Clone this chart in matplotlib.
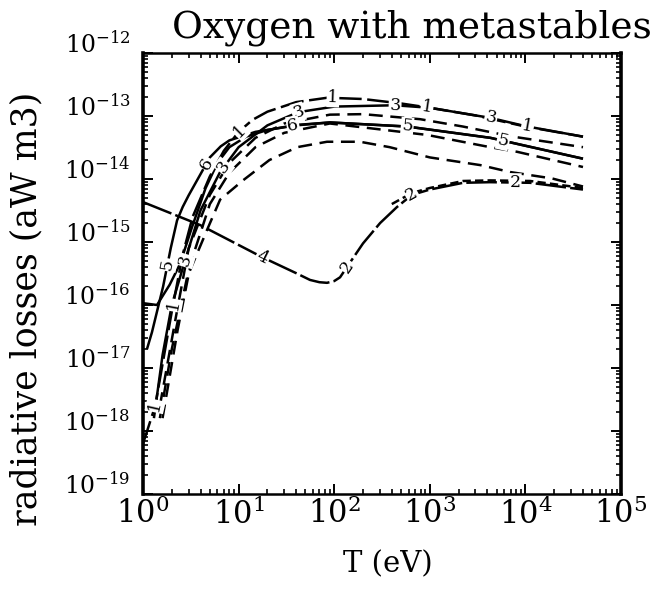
import numpy as np
import matplotlib
matplotlib.use("Agg")
import matplotlib.pyplot as plt

plt.rcParams["mathtext.fontset"] = "dejavuserif"
plt.rcParams["font.family"] = ["DejaVu Serif"]
plt.rcParams["lines.scale_dashes"] = False

# Temperature (eV) and radiative loss rate (W m^3) for each curve
t_1 = [1.0, 1.34, 2.0, 2.6, 3.3, 5.0, 7.0, 10.0, 14.0, 20.0, 40.0, 85.0, 200.0, 500.0, 1000.0, 3000.0, 1.0e4, 4.0e4]
l_1 = [6.3e-19, 2.5e-18, 7.9e-17, 6.3e-16, 2.5e-15, 1.1e-14, 2.8e-14, 5.6e-14, 8.7e-14, 1.17e-13, 1.66e-13, 1.95e-13, 1.86e-13, 1.58e-13, 1.35e-13, 1.02e-13, 6.8e-14, 4.7e-14]

t_3 = [1.3, 1.6, 2.0, 2.75, 4.0, 6.4, 10.0, 20.0, 42.0, 100.0, 430.0, 1000.0, 4350.0, 1.0e4, 4.0e4]
l_3 = [1.6e-18, 1.6e-17, 1.0e-16, 5.1e-16, 3.2e-15, 1.29e-14, 3.2e-14, 7.1e-14, 1.15e-13, 1.41e-13, 1.48e-13, 1.35e-13, 9.3e-14, 6.9e-14, 4.7e-14]

t_5 = [1.1, 1.24, 1.62, 1.95, 2.27, 2.6, 3.0, 4.0, 5.0, 6.5, 8.0, 15.0, 40.0, 90.0, 580.0, 4300.0, 8900.0, 4.0e4]
l_5 = [2.0e-17, 3.7e-17, 1.95e-16, 8.0e-16, 2.2e-15, 3.6e-15, 5.5e-15, 1.2e-14, 2.2e-14, 3.3e-14, 4.1e-14, 5.6e-14, 7.1e-14, 7.9e-14, 6.8e-14, 4.5e-14, 3.5e-14, 2.1e-14]

t_6 = [1.0, 1.4, 1.9, 2.44, 3.2, 4.5, 6.0, 8.0, 12.0, 20.0, 40.0, 90.0, 580.0, 4300.0, 4.0e4]
l_6 = [1.07e-16, 1.0e-16, 2.1e-16, 4.5e-16, 1.6e-15, 7.1e-15, 1.8e-14, 3.2e-14, 4.7e-14, 6.0e-14, 7.2e-14, 7.9e-14, 6.8e-14, 4.5e-14, 2.1e-14]

t_2 = [1.0, 3.95, 17.6, 40.0, 55.8, 70.0, 84.0, 100.0, 115.0, 146.0, 200.0, 302.0, 454.0, 650.0, 1000.0, 2230.0, 4270.0, 1.12e4, 4.0e4]
l_2 = [4.3e-15, 1.86e-15, 5.75e-16, 3.2e-16, 2.5e-16, 2.3e-16, 2.25e-16, 2.4e-16, 2.75e-16, 4.7e-16, 9.5e-16, 2.0e-15, 3.6e-15, 5.6e-15, 6.8e-15, 8.7e-15, 8.9e-15, 8.7e-15, 6.8e-15]

t_7 = [400.0, 650.0, 1000.0, 2230.0, 4270.0, 1.12e4, 4.0e4]
l_7 = [4.0e-15, 6.0e-15, 7.2e-15, 9.3e-15, 9.5e-15, 9.3e-15, 7.2e-15]

t_a = [1.5, 2.2, 3.0, 5.0, 8.0, 15.0, 30.0, 90.0, 200.0, 790.0, 2220.0, 7400.0, 4.0e4]
l_a = [2.5e-18, 6.3e-17, 7.9e-16, 5.6e-15, 1.8e-14, 4.5e-14, 7.6e-14, 1.05e-13, 1.07e-13, 8.9e-14, 6.8e-14, 4.7e-14, 3.2e-14]

t_b = [1.6, 2.3, 3.2, 5.0, 8.0, 15.0, 30.0, 90.0, 940.0, 4270.0, 8200.0, 4.0e4]
l_b = [1.6e-18, 4.0e-17, 5.0e-16, 4.0e-15, 1.26e-14, 3.2e-14, 5.4e-14, 7.6e-14, 5.0e-14, 3.2e-14, 2.7e-14, 1.55e-14]

t_c = [1.5, 2.0, 2.89, 4.67, 6.4, 11.1, 21.0, 41.0, 84.0, 186.0, 380.0, 1000.0, 3380.0, 6900.0, 1.9e4, 4.0e4]
l_c = [1.6e-18, 2.0e-17, 2.75e-16, 1.55e-15, 4.7e-15, 9.5e-15, 2.0e-14, 3.2e-14, 3.9e-14, 3.9e-14, 3.2e-14, 2.2e-14, 1.66e-14, 1.29e-14, 1.02e-14, 7.6e-15]

# Inline curve labels: (text, curve key, temperature)
curve_labels = [
    ("1", "1", 1.34), ("1", "1", 2.06), ("1", "1", 10.3), ("1", "1", 97.0), ("1", "1", 935.0), ("1", "1", 1.05e4),
    ("3", "3", 2.75), ("3", "3", 7.0), ("3", "3", 42.0), ("3", "3", 433.0), ("3", "3", 4350.0),
    ("5", "5", 1.8), ("5", "5", 580.0), ("5", "5", 5850.0),
    ("6", "5", 4.6), ("6", "6", 37.0),
    ("4", "2", 17.6), ("2", "2", 137.0), ("2", "2", 650.0), ("2", "2", 7800.0),
]

x_ticks = [1e0, 1e1, 1e2, 1e3, 1e4, 1e5]
x_tick_labels = [r"$10^{0}$", r"$10^{1}$", r"$10^{2}$", r"$10^{3}$", r"$10^{4}$", r"$10^{5}$"]
y_ticks = [1e-12, 1e-13, 1e-14, 1e-15, 1e-16, 1e-17, 1e-18, 1e-19]
y_tick_labels = [r"$10^{-12}$", r"$10^{-13}$", r"$10^{-14}$", r"$10^{-15}$",
                 r"$10^{-16}$", r"$10^{-17}$", r"$10^{-18}$", r"$10^{-19}$"]

title = "Oxygen with metastables"
x_label = "T (eV)"
y_label = "radiative losses (aW m3)"

fig = plt.figure(figsize=(6.69, 5.92), dpi=100)
ax = fig.add_axes([0.2138, 0.1655, 0.7145, 0.745])
ax.set_xscale("log")
ax.set_yscale("log")
ax.set_xlim(1, 1e5)
ax.set_ylim(1e-19, 1e-12)

long_dash = (0, (17, 4))
short_dash = (0, (10, 5.5))
curves = {
    "c": (t_c, l_c, short_dash),
    "b": (t_b, l_b, short_dash),
    "a": (t_a, l_a, short_dash),
    "7": (t_7, l_7, (0, (6, 3))),
    "2": (t_2, l_2, (0, (22, 3))),
    "6": (t_6, l_6, "-"),
    "5": (t_5, l_5, "-"),
    "3": (t_3, l_3, "-"),
    "1": (t_1, l_1, long_dash),
}
for key, (t, l, ls) in curves.items():
    ax.plot(t, l, color="black", lw=1.8, linestyle=ls, solid_capstyle="butt",
            dash_capstyle="butt", solid_joinstyle="round", zorder=3)


def on_curve(key, t):
    ts, ls, _ = curves[key]
    return 10 ** np.interp(np.log10(t), np.log10(ts), np.log10(ls))


for text, key, t in curve_labels:
    y = on_curve(key, t)
    p1 = ax.transData.transform((t / 1.08, on_curve(key, t / 1.08)))
    p2 = ax.transData.transform((t * 1.08, on_curve(key, t * 1.08)))
    ang = np.degrees(np.arctan2(p2[1] - p1[1], p2[0] - p1[0]))
    ax.text(t, y, text, rotation=ang, rotation_mode="anchor", ha="center",
            va="center", fontsize=12.5, zorder=5,
            bbox=dict(boxstyle="square,pad=0.05", fc="white", ec="none"))

ax.set_xticks(x_ticks)
ax.set_xticklabels(x_tick_labels, fontsize=22)
ax.set_yticks(y_ticks)
ax.set_yticklabels(y_tick_labels, fontsize=17)
for lbl in ax.get_yticklabels():
    lbl.set_verticalalignment("baseline")

ax.tick_params(which="both", direction="in", top=True, right=True, color="black")
ax.tick_params(which="major", length=7, width=1.4)
ax.tick_params(which="minor", length=3.5, width=1.2)
ax.tick_params(axis="x", which="major", pad=3)
ax.tick_params(axis="y", which="major", pad=9)
ax.xaxis.set_minor_locator(matplotlib.ticker.LogLocator(base=10, subs=np.arange(2, 10), numticks=20))
ax.yaxis.set_minor_locator(matplotlib.ticker.LogLocator(base=10, subs=np.arange(2, 10), numticks=20))
ax.xaxis.set_minor_formatter(matplotlib.ticker.NullFormatter())
ax.yaxis.set_minor_formatter(matplotlib.ticker.NullFormatter())

for side in ["left", "right"]:
    ax.spines[side].set_linewidth(2.6)
for side in ["top", "bottom"]:
    ax.spines[side].set_linewidth(1.8)

fig.text(0.615, 0.937, title, ha="center", va="baseline", fontsize=27)
fig.text(0.040, 0.478, y_label, ha="center", va="center", rotation=90, fontsize=25)
fig.text(0.580, 0.047, x_label, ha="center", va="center", fontsize=21)

fig.savefig("out.png", dpi=100)
